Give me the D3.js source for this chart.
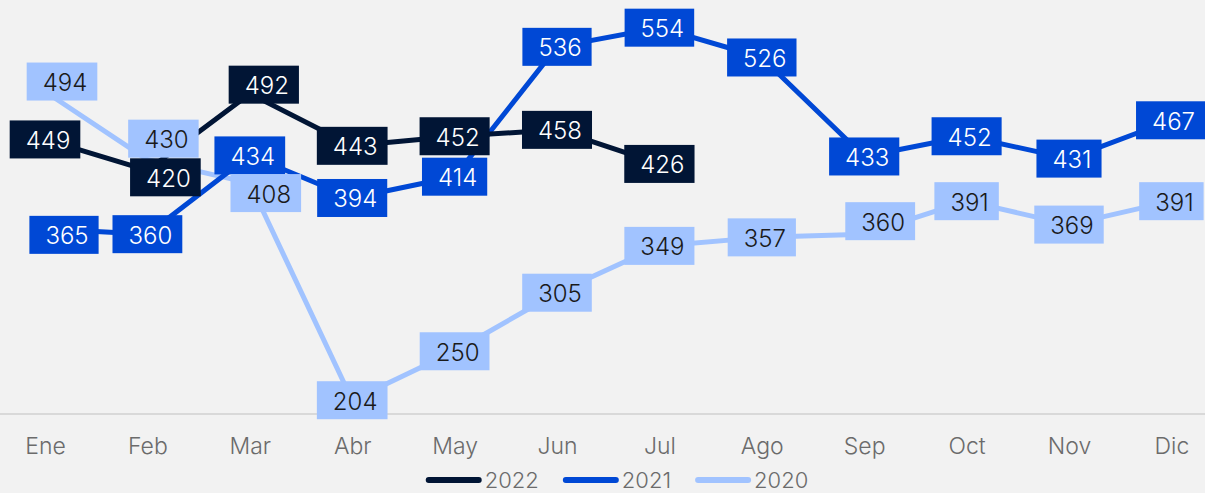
<!DOCTYPE html>
<html>
<head>
<meta charset="utf-8">
<script src="https://cdn.jsdelivr.net/npm/d3@7"></script>
<style>
  html, body { margin: 0; padding: 0; background: #f2f2f2; }
  svg { display: block; font-family: Inter, "Noto Sans", sans-serif; }
</style>
</head>
<body>
<svg id="chart"></svg>
<script>
const months = ['Ene', 'Feb', 'Mar', 'Abr', 'May', 'Jun', 'Jul', 'Ago', 'Sep', 'Oct', 'Nov', 'Dic'];
const years = ['2022', '2021', '2020'];
const values2022 = [449, 420, 492, 443, 452, 458, 426];
const values2021 = [365, 360, 434, 394, 414, 536, 554, 526, 433, 452, 431, 467];
const values2020 = [494, 430, 408, 204, 250, 305, 349, 357, 360, 391, 369, 391];

const colors = { '2022': '#011535', '2021': '#0048d5', '2020': '#a1c3ff' };
const textColors = { '2022': '#ffffff', '2021': '#ffffff', '2020': '#1a1a1a' };

// labels that were pushed aside to stop them overlapping
const labelNudge = {
  '2022-Feb': [18, 7], '2022-Mar': [14, -9],
  '2021-Ene': [19, 6],
  '2020-Ene': [17, -10], '2020-Feb': [16, -21], '2020-Mar': [16, 10], '2020-Sep': [16, -13]
};

const W = 1205, H = 493;
const series = [
  { year: '2022', values: values2022 },
  { year: '2021', values: values2021 },
  { year: '2020', values: values2020 }
];

const svg = d3.select('#chart').attr('width', W).attr('height', H);
svg.append('rect').attr('width', W).attr('height', H).attr('fill', '#f2f2f2');

const x = d3.scalePoint().domain(months).range([45, 1171.4]);
const y = d3.scaleLinear().domain([192, 580]).range([413, 0]);

// baseline + month labels
svg.append('line')
  .attr('x1', 0).attr('x2', W)
  .attr('y1', y(192) + 1).attr('y2', y(192) + 1)
  .attr('stroke', '#d9d9d9').attr('stroke-width', 2);

const xAxis = svg.append('g')
  .attr('transform', `translate(0, ${y(192)})`)
  .call(d3.axisBottom(x).tickSize(0).tickPadding(0));
xAxis.select('.domain').remove();
xAxis.selectAll('text')
  .attr('y', 41)
  .attr('dy', 0)
  .attr('fill', '#6b6b6b')
  .style('font-size', '23px')
  .style('font-weight', 300)
  .style('font-family', 'Inter, sans-serif');

// lines, drawn under all labels
const line = d3.line()
  .x((_, i) => x(months[i]))
  .y(d => y(d));

svg.selectAll('.series-line')
  .data(series.slice().reverse())
  .enter()
    .append('path')
    .attr('class', 'series-line')
    .attr('d', d => line(d.values))
    .attr('fill', 'none')
    .attr('stroke', d => colors[d.year])
    .attr('stroke-width', 5)
    .attr('stroke-linejoin', 'round');

// boxed value labels
const points = [];
series.forEach(s => s.values.forEach((v, i) => {
  const nudge = labelNudge[`${s.year}-${months[i]}`] || [0, 0];
  points.push({ year: s.year, month: months[i], value: v, dx: nudge[0], dy: nudge[1] });
}));

const boxH = 38;
const $labels = svg.selectAll('.value-label')
  .data(points)
  .enter()
    .append('g')
    .attr('class', 'value-label');

const $rects = $labels.append('rect')
  .attr('fill', d => colors[d.year]);

$labels.append('text')
  .attr('text-anchor', 'middle')
  .attr('dominant-baseline', 'central')
  .attr('fill', d => textColors[d.year])
  .style('font-size', '24px')
  .style('font-weight', 300)
  .text(d => d.value)
  .each(function(d) { d.tw = this.getComputedTextLength(); });

$labels.each(function(d) {
  const bw = d.tw + 26;
  let cx = x(d.month) + d.dx;
  cx = Math.max(bw / 2, Math.min(W - bw / 2, cx));
  d.cx = cx; d.cy = y(d.value) + d.dy; d.bw = bw;
});
$labels.attr('transform', d => `translate(${d.cx}, ${d.cy})`);
$rects
  .attr('x', d => -d.bw / 2)
  .attr('y', -boxH / 2)
  .attr('width', d => d.bw)
  .attr('height', boxH);
$labels.select('text').attr('x', 3).attr('y', 1);

// legend
const legend = svg.append('g').attr('class', 'legend');
let lx = 0;
years.forEach(yr => {
  const item = legend.append('g').attr('transform', `translate(${lx}, 0)`);
  item.append('line')
    .attr('x1', 3).attr('x2', 53)
    .attr('stroke', colors[yr]).attr('stroke-width', 6).attr('stroke-linecap', 'round');
  const t = item.append('text')
    .attr('x', 59)
    .attr('dominant-baseline', 'central')
    .attr('fill', '#6b6b6b')
    .style('font-size', '22px')
    .style('font-weight', 300)
    .text(yr);
  lx += 59 + t.node().getComputedTextLength() + 24;
});
lx -= 24;
legend.attr('transform', `translate(${617 - lx / 2}, 480)`);
</script>
</body>
</html>
